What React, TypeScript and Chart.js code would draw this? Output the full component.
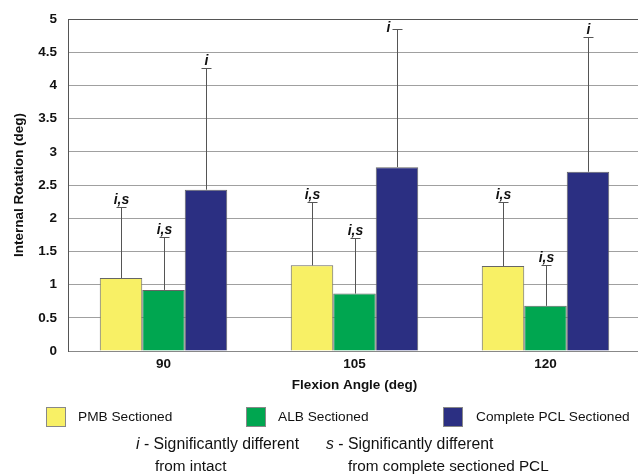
import React, { useEffect, useRef } from "react";
import { Chart, registerables } from "chart.js";

Chart.register(...registerables);

const categories = ["90", "105", "120"];
const seriesNames = ["PMB Sectioned", "ALB Sectioned", "Complete PCL Sectioned"];
const seriesColors = ["#F8F065", "#00A650", "#2B2F82"];
const pmbValues = [1.1, 1.29, 1.28];
const albValues = [0.92, 0.865, 0.68];
const pclValues = [2.43, 2.77, 2.7];
const pmbErrorTops = [2.17, 2.25, 2.25];
const albErrorTops = [1.71, 1.7, 1.3];
const pclErrorTops = [4.26, 4.85, 4.73];
const pmbMarks = ["i,s", "i,s", "i,s"];
const albMarks = ["i,s", "i,s", "i,s"];
const pclMarks = ["i", "i", "i"];
const yMin = 0;
const yMax = 5;
const yStep = 0.5;
const xTitle = "Flexion Angle (deg)";
const yTitle = "Internal Rotation (deg)";
const footnoteI = ["i", " - Significantly different", "from intact"];
const footnoteS = ["s", " - Significantly different", "from complete sectioned PCL"];

const FONT = "'Liberation Sans', Arial, Helvetica, sans-serif";

const errorPlugin = {
  id: "errorBars",
  afterDatasetsDraw(chart: any) {
    const ctx = chart.ctx;
    const yScale = chart.scales.y;
    const area = chart.chartArea;
    chart.data.datasets.forEach((ds: any, di: number) => {
      const meta = chart.getDatasetMeta(di);
      meta.data.forEach((bar: any, i: number) => {
        const x = Math.round(bar.x) + 0.5;
        const yBar = bar.y;
        const yTop = Math.round(yScale.getPixelForValue(ds.errorTops[i])) + 0.5;
        ctx.save();
        ctx.strokeStyle = "#555";
        ctx.lineWidth = 1;
        ctx.beginPath();
        ctx.moveTo(x, yBar);
        ctx.lineTo(x, yTop);
        ctx.moveTo(x - 5, yTop);
        ctx.lineTo(x + 5, yTop);
        ctx.stroke();
        ctx.fillStyle = "#111";
        ctx.font = `italic bold 14px ${FONT}`;
        const label = ds.marks[i];
        if (yTop - 3 - 11 < area.top) {
          ctx.textAlign = "right";
          ctx.textBaseline = "alphabetic";
          ctx.fillText(label, x - 7, yTop + 2);
        } else {
          ctx.textAlign = "center";
          ctx.textBaseline = "alphabetic";
          ctx.fillText(label, x, yTop - 4);
        }
        ctx.restore();
      });
    });
  },
};

const legendPlugin = {
  id: "customLegend",
  afterDraw(chart: any) {
    const ctx = chart.ctx;
    ctx.save();
    const boxX = [46, 246, 443];
    const textX = [78, 278, 476];
    seriesNames.forEach((name, i) => {
      ctx.fillStyle = seriesColors[i];
      ctx.fillRect(boxX[i], 407, 20, 20);
      ctx.strokeStyle = "#888";
      ctx.lineWidth = 1;
      ctx.strokeRect(boxX[i] + 0.5, 407.5, 19, 19);
      ctx.fillStyle = "#111";
      ctx.font = `13.7px ${FONT}`;
      ctx.textAlign = "left";
      ctx.textBaseline = "middle";
      ctx.fillText(name, textX[i], 417);
    });
    const drawNote = (note: string[], x1: number, x2: number) => {
      ctx.font = `italic 15.8px ${FONT}`;
      ctx.textBaseline = "middle";
      ctx.textAlign = "left";
      ctx.fillText(note[0], x1, 445);
      const w = ctx.measureText(note[0]).width;
      ctx.font = `15.8px ${FONT}`;
      ctx.fillText(note[1], x1 + w, 445);
      ctx.font = `15.3px ${FONT}`;
      ctx.fillText(note[2], x2, 467);
    };
    drawNote(footnoteI, 136, 155);
    drawNote(footnoteS, 326, 348);
    ctx.restore();
  },
};

export default function App() {
  const canvasRef = useRef<HTMLCanvasElement | null>(null);
  useEffect(() => {
    document.body.style.margin = "0";
    const canvas = canvasRef.current;
    if (!canvas) return;
    const chart = new Chart(canvas, {
      type: "bar",
      data: {
        labels: categories,
        datasets: [
          { label: seriesNames[0], data: pmbValues, backgroundColor: seriesColors[0], errorTops: pmbErrorTops, marks: pmbMarks } as any,
          { label: seriesNames[1], data: albValues, backgroundColor: seriesColors[1], errorTops: albErrorTops, marks: albMarks } as any,
          { label: seriesNames[2], data: pclValues, backgroundColor: seriesColors[2], errorTops: pclErrorTops, marks: pclMarks } as any,
        ],
      },
      options: {
        responsive: false,
        animation: false,
        devicePixelRatio: 1,
        layout: { padding: { left: 8, top: 14, right: 4, bottom: 81 } },
        datasets: {
          bar: {
            categoryPercentage: 0.6675,
            barPercentage: 1,
            borderWidth: 1,
            borderColor: "#666",
          },
        },
        plugins: {
          legend: { display: false },
          tooltip: { enabled: false },
        },
        scales: {
          x: {
            grid: { display: false, drawTicks: false },
            border: { display: true, color: "#888", width: 1 },
            ticks: {
              color: "#111",
              font: { family: FONT, size: 13.5, weight: "bold" },
              padding: 5,
            },
            title: {
              display: true,
              text: xTitle,
              color: "#111",
              font: { family: FONT, size: 13.5, weight: "bold" },
              padding: { top: 0, bottom: 0 },
            },
            afterFit: (scale: any) => {
              scale.height = 42;
            },
          },
          y: {
            min: yMin,
            max: yMax,
            grid: {
              drawTicks: false,
              color: (c: any) => (c.tick && c.tick.value === yMax ? "#555" : "#a0a0a0"),
              lineWidth: 1,
            },
            border: { display: true, color: "#555", width: 1 },
            ticks: {
              stepSize: yStep,
              color: "#111",
              padding: 11,
              font: { family: FONT, size: 13.5, weight: "bold" },
              callback: (v: any) => String(Number(v)),
            },
            title: {
              display: true,
              text: yTitle,
              color: "#111",
              font: { family: FONT, size: 13.5, weight: "bold" },
              padding: { top: 3, bottom: 0 },
            },
            afterFit: (scale: any) => {
              scale.width = 60;
            },
          },
        },
      },
      plugins: [errorPlugin, legendPlugin],
    } as any);
    return () => chart.destroy();
  }, []);
  return (
    <div style={{ width: 638, height: 474, overflow: "hidden", position: "relative", background: "#fff" }}>
      <canvas ref={canvasRef} width={645} height={474} style={{ display: "block", width: 645, height: 474 }} />
    </div>
  );
}
